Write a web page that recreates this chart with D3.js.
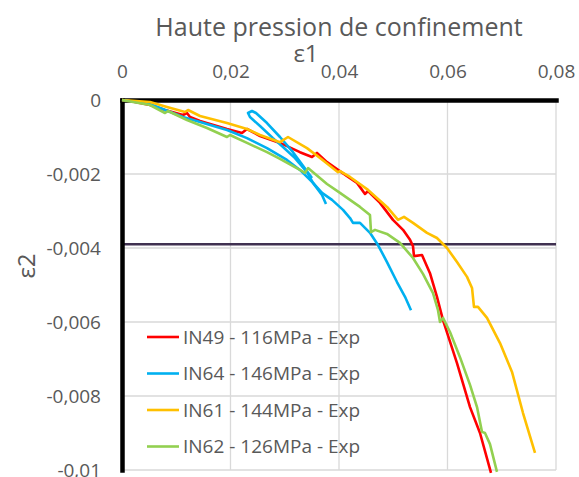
<!DOCTYPE html>
<html><head><meta charset="utf-8">
<script src="https://cdn.jsdelivr.net/npm/d3@7"></script>
<style>body{margin:0;background:#fff}svg{display:block}text{font-family:"Open Sans",sans-serif;fill:#595959}</style>
</head><body>
<svg id="c" width="579" height="477"></svg>
<script>
const xTicks = [0, 0.02, 0.04, 0.06, 0.08];
const xTickLabels = ["0", "0,02", "0,04", "0,06", "0,08"];
const yTicks = [0, -0.002, -0.004, -0.006, -0.008, -0.01];
const yTickLabels = ["0", "-0,002", "-0,004", "-0,006", "-0,008", "-0,01"];
const seriesNames = ["IN49 - 116MPa - Exp", "IN64 - 146MPa - Exp", "IN61 - 144MPa - Exp", "IN62 - 126MPa - Exp"];
const seriesColors = ["#FF0000", "#00B0F0", "#FFC000", "#92D050"];
const refLineY = -0.0039;

const in49 = [[0,0],[0.0024,-0.000054],[0.00516,-0.000135],[0.00793,-0.00027],[0.01124,-0.000405],[0.01198,-0.000351],[0.01253,-0.00046],[0.01438,-0.000568],[0.01935,-0.000784],[0.02212,-0.000892],[0.02304,-0.000784],[0.02544,-0.000973],[0.02912,-0.00116],[0.0328,-0.00141],[0.03502,-0.00154],[0.03594,-0.00143],[0.03779,-0.00168],[0.03982,-0.00189],[0.04203,-0.00211],[0.04332,-0.00224],[0.04479,-0.00254],[0.04535,-0.00246],[0.04756,-0.00278],[0.04995,-0.00324],[0.0518,-0.00351],[0.05309,-0.00378],[0.05364,-0.00395],[0.05382,-0.00422],[0.0553,-0.00419],[0.05677,-0.00468],[0.05806,-0.00532],[0.05917,-0.00595],[0.06175,-0.00711],[0.06415,-0.0083],[0.06599,-0.009],[0.06802,-0.01008]];
const in64 = [[0,0],[0.00516,-0.000108],[0.01124,-0.00046],[0.01438,-0.000595],[0.01935,-0.00081],[0.02304,-0.00103],[0.02673,-0.0013],[0.0304,-0.00162],[0.0328,-0.00189],[0.03521,-0.00224],[0.03687,-0.00251],[0.03871,-0.0027],[0.04074,-0.00297],[0.04203,-0.00319],[0.04258,-0.00332],[0.04387,-0.00332],[0.04571,-0.00359],[0.04719,-0.00392],[0.04885,-0.00438],[0.05069,-0.00492],[0.05217,-0.00532],[0.05327,-0.00568]];
const in64Loop = [[0.03502,-0.00211],[0.03336,-0.00178],[0.03152,-0.00141],[0.02912,-0.001],[0.02673,-0.000622],[0.0247,-0.000351],[0.02396,-0.000297],[0.02323,-0.000351],[0.02359,-0.00046],[0.02544,-0.000703],[0.02783,-0.00103],[0.02968,-0.00127],[0.03189,-0.00157],[0.0341,-0.00195],[0.03521,-0.00224],[0.03687,-0.00257],[0.0376,-0.00281]];
const in61 = [[0,0],[0.00516,-0.000054],[0.0083,-0.000189],[0.01161,-0.000324],[0.01217,-0.00027],[0.01438,-0.000432],[0.01935,-0.000622],[0.02304,-0.000784],[0.02544,-0.000946],[0.02912,-0.00114],[0.0306,-0.001],[0.0341,-0.0013],[0.0365,-0.00157],[0.03982,-0.00195],[0.04018,-0.00192],[0.04203,-0.00208],[0.04535,-0.00243],[0.04885,-0.00289],[0.05088,-0.00324],[0.05198,-0.00316],[0.05364,-0.00332],[0.05622,-0.00359],[0.05806,-0.00373],[0.05991,-0.004],[0.06175,-0.00438],[0.0636,-0.00478],[0.06452,-0.00508],[0.06488,-0.00559],[0.06562,-0.00559],[0.06728,-0.00589],[0.06968,-0.00657],[0.07189,-0.00735],[0.07392,-0.00846],[0.07613,-0.00954]];
const in62 = [[0,0],[0.00516,-0.000135],[0.00793,-0.000351],[0.00848,-0.000297],[0.01198,-0.00054],[0.01567,-0.000757],[0.01935,-0.001],[0.01991,-0.000946],[0.02304,-0.00116],[0.02673,-0.00141],[0.02912,-0.00159],[0.0328,-0.00189],[0.03373,-0.00197],[0.03429,-0.00184],[0.03779,-0.00227],[0.04018,-0.00251],[0.04387,-0.00289],[0.04571,-0.00311],[0.0459,-0.00357],[0.04664,-0.00351],[0.04885,-0.00362],[0.05124,-0.00386],[0.05364,-0.00427],[0.05548,-0.0047],[0.05733,-0.00522],[0.05825,-0.00568],[0.05862,-0.006],[0.05917,-0.00589],[0.06046,-0.00627],[0.0623,-0.00695],[0.06415,-0.0077],[0.06544,-0.0083],[0.06636,-0.00897],[0.06691,-0.009],[0.06783,-0.0093],[0.06912,-0.01005]];

const svg = d3.select("#c");
const x = d3.scaleLinear().domain([0, 0.08]).range([122, 556]);
const y = d3.scaleLinear().domain([0, -0.01]).range([100, 470]);

// gridlines
svg.append("g").selectAll("line").data(xTicks.slice(1)).join("line")
  .attr("x1", d => x(d)).attr("x2", d => x(d)).attr("y1", y(0)).attr("y2", y(-0.01))
  .attr("stroke", "#d9d9d9").attr("stroke-width", 1.3);
svg.append("g").selectAll("line").data(yTicks.slice(1)).join("line")
  .attr("x1", x(0)).attr("x2", x(0.08)).attr("y1", d => y(d)).attr("y2", d => y(d))
  .attr("stroke", "#d9d9d9").attr("stroke-width", 1.3);

// reference horizontal line
svg.append("line").attr("x1", x(0)).attr("x2", x(0.08))
  .attr("y1", y(refLineY)).attr("y2", y(refLineY))
  .attr("stroke", "#403151").attr("stroke-width", 2.5);

// axes
const gx = svg.append("g").attr("transform", `translate(0,${y(0)})`)
  .call(d3.axisTop(x).tickValues(xTicks).tickFormat((d, i) => xTickLabels[i]).tickSize(0).tickSizeOuter(0).tickPadding(22));
const gy = svg.append("g").attr("transform", `translate(${x(0)},0)`)
  .call(d3.axisLeft(y).tickValues(yTicks).tickFormat((d, i) => yTickLabels[i]).tickSize(0).tickSizeOuter(0).tickPadding(21));
[gx, gy].forEach(g => {
  g.select(".domain").attr("stroke", "#000").attr("stroke-width", 4.5).attr("stroke-linecap", "square");
  g.selectAll("text").style("font-family", '"Open Sans",sans-serif').style("font-size", "19px").attr("fill", "#595959");
});

// series
const line = d3.line().x(d => x(d[0])).y(d => y(d[1]));
const all = [[in49], [in64, in64Loop], [in61], [in62]];
all.forEach((parts, i) => {
  parts.forEach(p => {
    svg.append("path").datum(p).attr("d", line).attr("fill", "none")
      .attr("stroke", seriesColors[i]).attr("stroke-width", 2.6).attr("stroke-linejoin", "round");
  });
});

// legend
const lg = svg.append("g");
seriesNames.forEach((n, i) => {
  const cy = 337 + i * 36.5;
  lg.append("line").attr("x1", 147).attr("x2", 179).attr("y1", cy).attr("y2", cy)
    .attr("stroke", seriesColors[i]).attr("stroke-width", 2.6);
  lg.append("text").attr("x", 183).attr("y", cy).attr("dy", "0.36em")
    .style("font-size", "19px").text(n);
});

// titles
svg.append("text").attr("x", 339).attr("y", 36).attr("text-anchor", "middle")
  .style("font-size", "25px").text("Haute pression de confinement");
svg.append("text").attr("x", 306).attr("y", 62).attr("text-anchor", "middle")
  .style("font-size", "24px").text("ε1");
svg.append("text").attr("transform", "translate(35,266) rotate(-90)").attr("text-anchor", "middle")
  .style("font-size", "24px").text("ε2");
</script>
</body></html>
